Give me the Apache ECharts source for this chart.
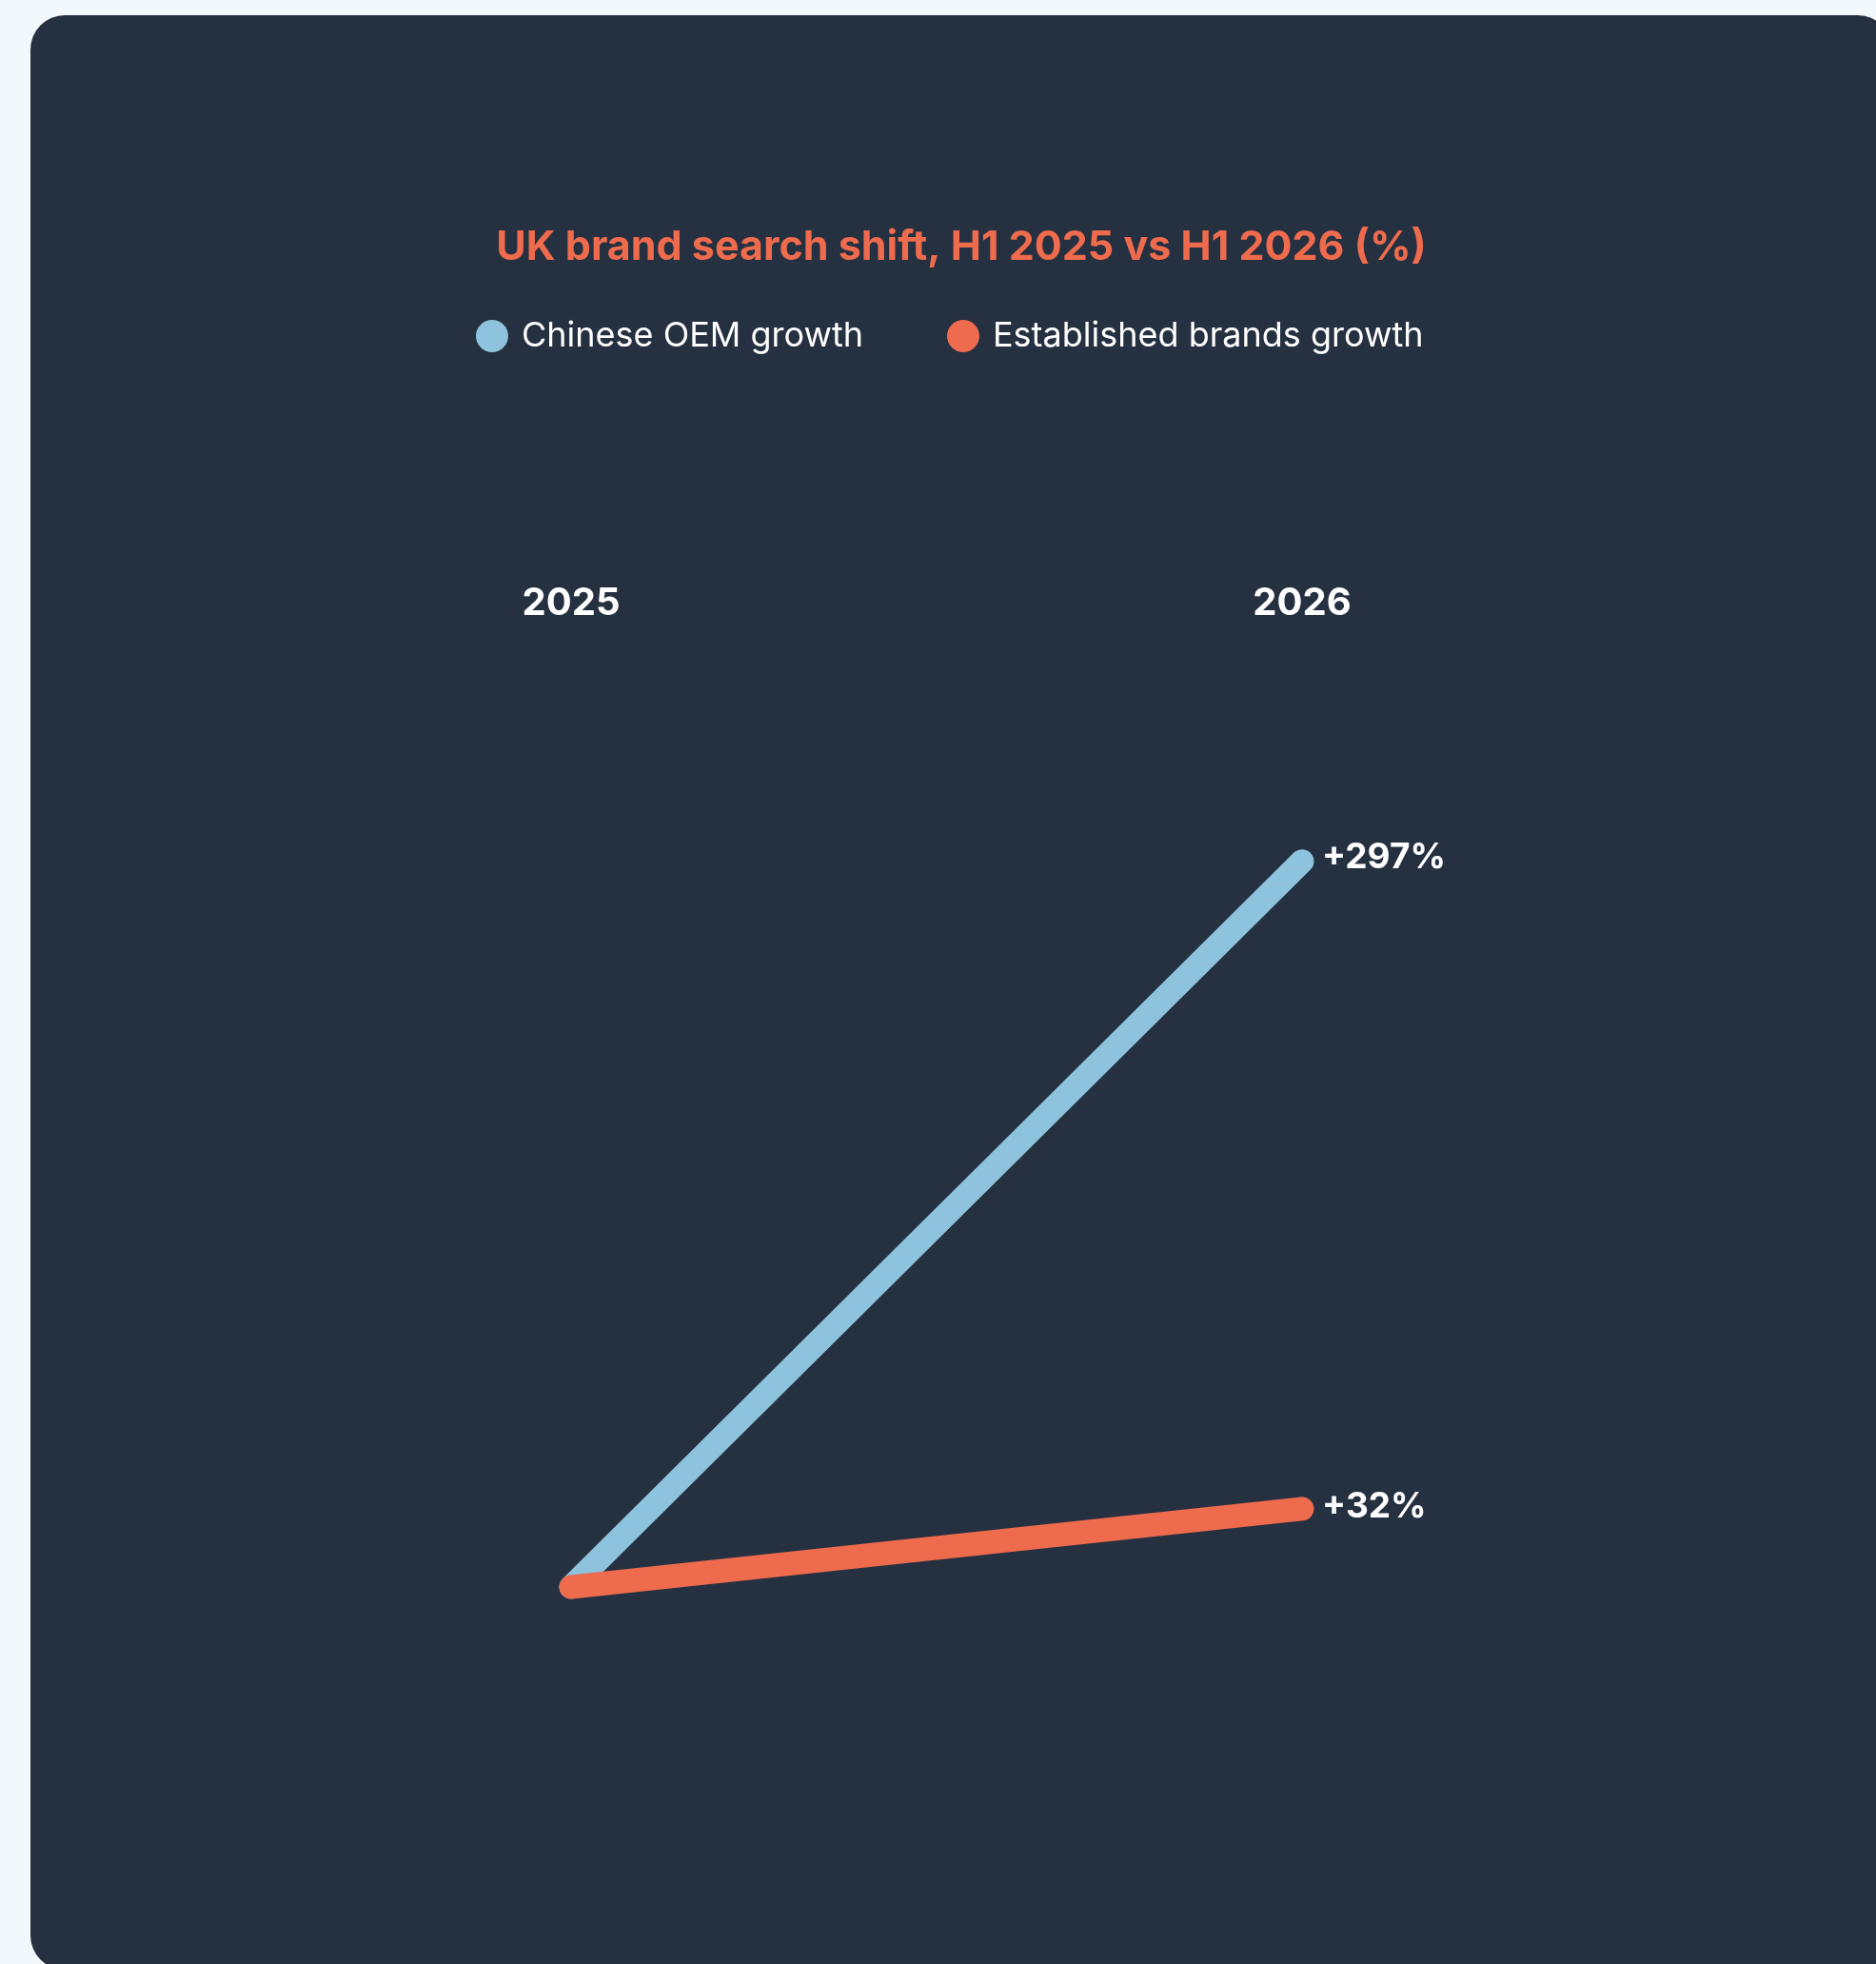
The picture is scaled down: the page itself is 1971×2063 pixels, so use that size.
<!DOCTYPE html>
<html>
<head>
<meta charset="utf-8">
<title>UK brand search shift</title>
<script src="https://cdn.jsdelivr.net/npm/echarts@6/dist/echarts.min.js"></script>
<style>
  html, body { margin: 0; padding: 0; width: 1971px; height: 2063px; overflow: hidden; background: #f3f8fc; }
  #card { position: absolute; left: 32px; top: 16px; width: 1956px; height: 2053px; border-radius: 36px; background: #253040; overflow: hidden; }
  #chart { width: 1956px; height: 2053px; }
</style>
</head>
<body>
<div id="card"><div id="chart"></div></div>
<script>
// Half-year periods on the x axis
const periods = ['2025', '2026'];
// Search growth in percent, indexed from H1 2025
const chineseOem = [0, 297];
const establishedBrands = [0, 32];
const seriesNames = ['Chinese OEM growth', 'Established brands growth'];

const FONT = 'Inter';
const BLUE = '#8ec3de';
const ORANGE = '#ee6b4d';

const chart = echarts.init(document.getElementById('chart'), null, { renderer: 'canvas' });

function lineSeries(name, values, color, labelOffsetY) {
  return {
    name: name,
    type: 'line',
    data: values,
    showSymbol: false,
    symbol: 'circle',
    clip: false,
    lineStyle: { color: color, width: 25, cap: 'round', join: 'round' },
    itemStyle: { color: color },
    endLabel: {
      show: true,
      distance: 21,
      offset: [0, labelOffsetY],
      color: '#ffffff',
      fontFamily: FONT,
      fontWeight: 700,
      fontSize: 37,
      formatter: p => '+' + p.value + '%'
    },
    emphasis: { disabled: true },
    animation: false
  };
}

chart.setOption({
  backgroundColor: 'transparent',
  title: {
    text: 'UK brand search shift, H1 2025 vs H1 2026 (%)',
    left: 'center',
    top: 218,
    textStyle: { color: ORANGE, fontFamily: FONT, fontWeight: 700, fontSize: 43 }
  },
  legend: {
    data: seriesNames,
    top: 314,
    left: 463,
    icon: 'circle',
    itemWidth: 34,
    itemHeight: 34,
    itemGap: 88,
    textStyle: { color: '#ffffff', fontFamily: FONT, fontSize: 36, padding: [0, 0, 0, 9] }
  },
  grid: { left: 568, right: 620, top: 881, bottom: 402, containLabel: false },
  xAxis: {
    type: 'category',
    data: periods,
    position: 'top',
    boundaryGap: false,
    axisLine: { show: false, onZero: false },
    axisTick: { show: false },
    splitLine: { show: false },
    axisLabel: { color: '#ffffff', fontFamily: FONT, fontWeight: 700, fontSize: 40, margin: 243 }
  },
  yAxis: {
    type: 'value',
    min: 0,
    max: 300,
    show: false,
    splitLine: { show: false }
  },
  series: [
    lineSeries(seriesNames[0], chineseOem, BLUE, -4),
    lineSeries(seriesNames[1], establishedBrands, ORANGE, -2)
  ]
});
</script>
</body>
</html>
